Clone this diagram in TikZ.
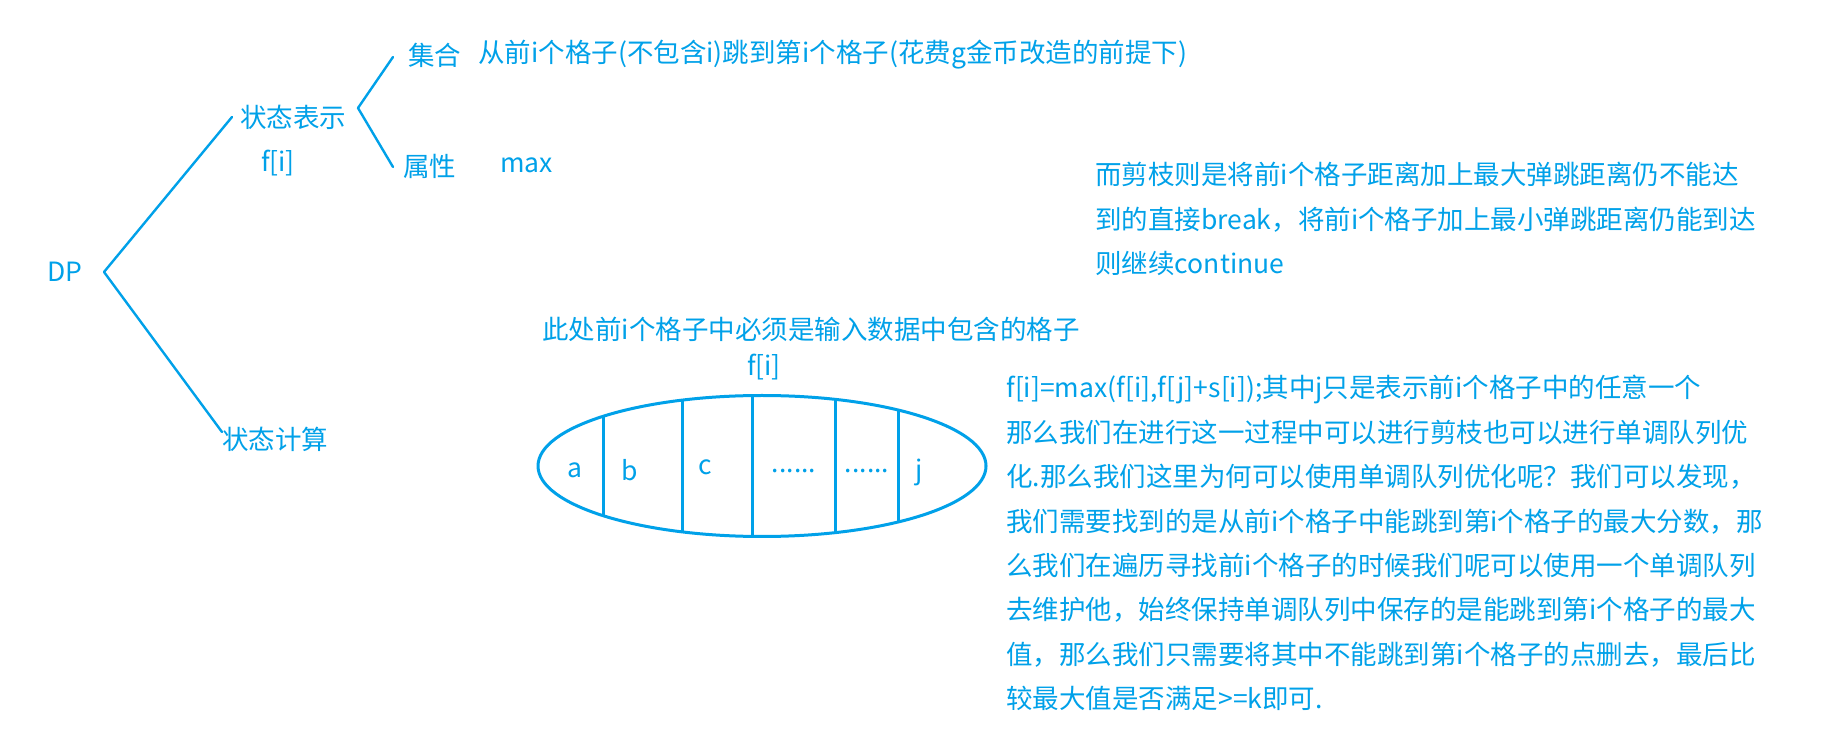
\documentclass[tikz,border=0pt]{standalone}
\usepackage{fontspec}
\setmainfont{Noto Sans CJK SC}
\usetikzlibrary{shapes.geometric}
\definecolor{myblue}{RGB}{0,161,233}
\begin{document}
\begin{tikzpicture}[x=0.5pt,y=-0.5pt,
  txt/.style={text=myblue, inner sep=0pt, font=\fontsize{13.25pt}{22.2pt}\selectfont},
  lbl/.style={txt, anchor=west},
  block/.style={txt, align=left, anchor=north west},
  br/.style={draw=myblue, line width=1.2pt, line cap=round, line join=round},
  cell/.style={draw=myblue, line width=1.5pt}]
\fill[white] (0,0) rectangle (1829,747);
\useasboundingbox (0,0) rectangle (1829,747);

% left tree
\node[txt] (dp) at (65,272) {DP};
\coordinate (a1) at (104,272);
\coordinate (u1) at (232,117);
\coordinate (d1) at (222,432);
\draw[br] (u1) -- (a1) -- (d1);

\node[lbl] (st) at (240,117) {状态表示};
\node[txt] (fi1) at (278,163) {f[i]};
\node[lbl] (calc) at (222,439) {状态计算};

\coordinate (a2) at (358,108);
\coordinate (u2) at (393,57);
\coordinate (d2) at (393,167);
\draw[br] (u2) -- (a2) -- (d2);

\node[lbl] (set) at (408,55) {集合};
\node[lbl] (setdesc) at (478,55) {从前i个格子(不包含i)跳到第i个格子(花费g金币改造的前提下)};
\node[lbl] (attr) at (403,166) {属性};
\node[lbl] (mx) at (500,165) {max};

% pruning note
\node[block] (prune) at (1095,162) {而剪枝则是将前i个格子距离加上最大弹跳距离仍不能达\\到的直接break，将前i个格子加上最小弹跳距离仍能到达\\则继续continue};

% array ellipse
\node[lbl] (note) at (542,329) {此处前i个格子中必须是输入数据中包含的格子};
\node[txt] (fi2) at (764,367) {f[i]};
\node[ellipse, cell, minimum width=224pt, minimum height=70.5pt, inner sep=0pt] (arr) at (762,466) {};
\begin{scope}
  \clip (arr.center) ellipse [x radius=112pt, y radius=35.25pt];
  \foreach \xx in {603,682,752,835,898} \draw[cell] (\xx,380) -- (\xx,560);
\end{scope}
\node[txt] (ca) at (575,470) {a};
\node[txt] (cb) at (630,470) {b};
\node[txt] (cc) at (705,467) {c};
\node[txt, anchor=base] (cd1) at (794,473) {......};
\node[txt, anchor=base] (cd2) at (867,473) {......};
\node[txt] (cj) at (919,472) {j};

% formula block
\node[block] (formula) at (1006,375) {f[i]=max(f[i],f[j]+s[i]);其中j只是表示前i个格子中的任意一个\\那么我们在进行这一过程中可以进行剪枝也可以进行单调队列优\\化.那么我们这里为何可以使用单调队列优化呢？我们可以发现，\\我们需要找到的是从前i个格子中能跳到第i个格子的最大分数，那\\么我们在遍历寻找前i个格子的时候我们呢可以使用一个单调队列\\去维护他，始终保持单调队列中保存的是能跳到第i个格子的最大\\值，那么我们只需要将其中不能跳到第i个格子的点删去，最后比\\较最大值是否满足>=k即可.};
\end{tikzpicture}
\end{document}
